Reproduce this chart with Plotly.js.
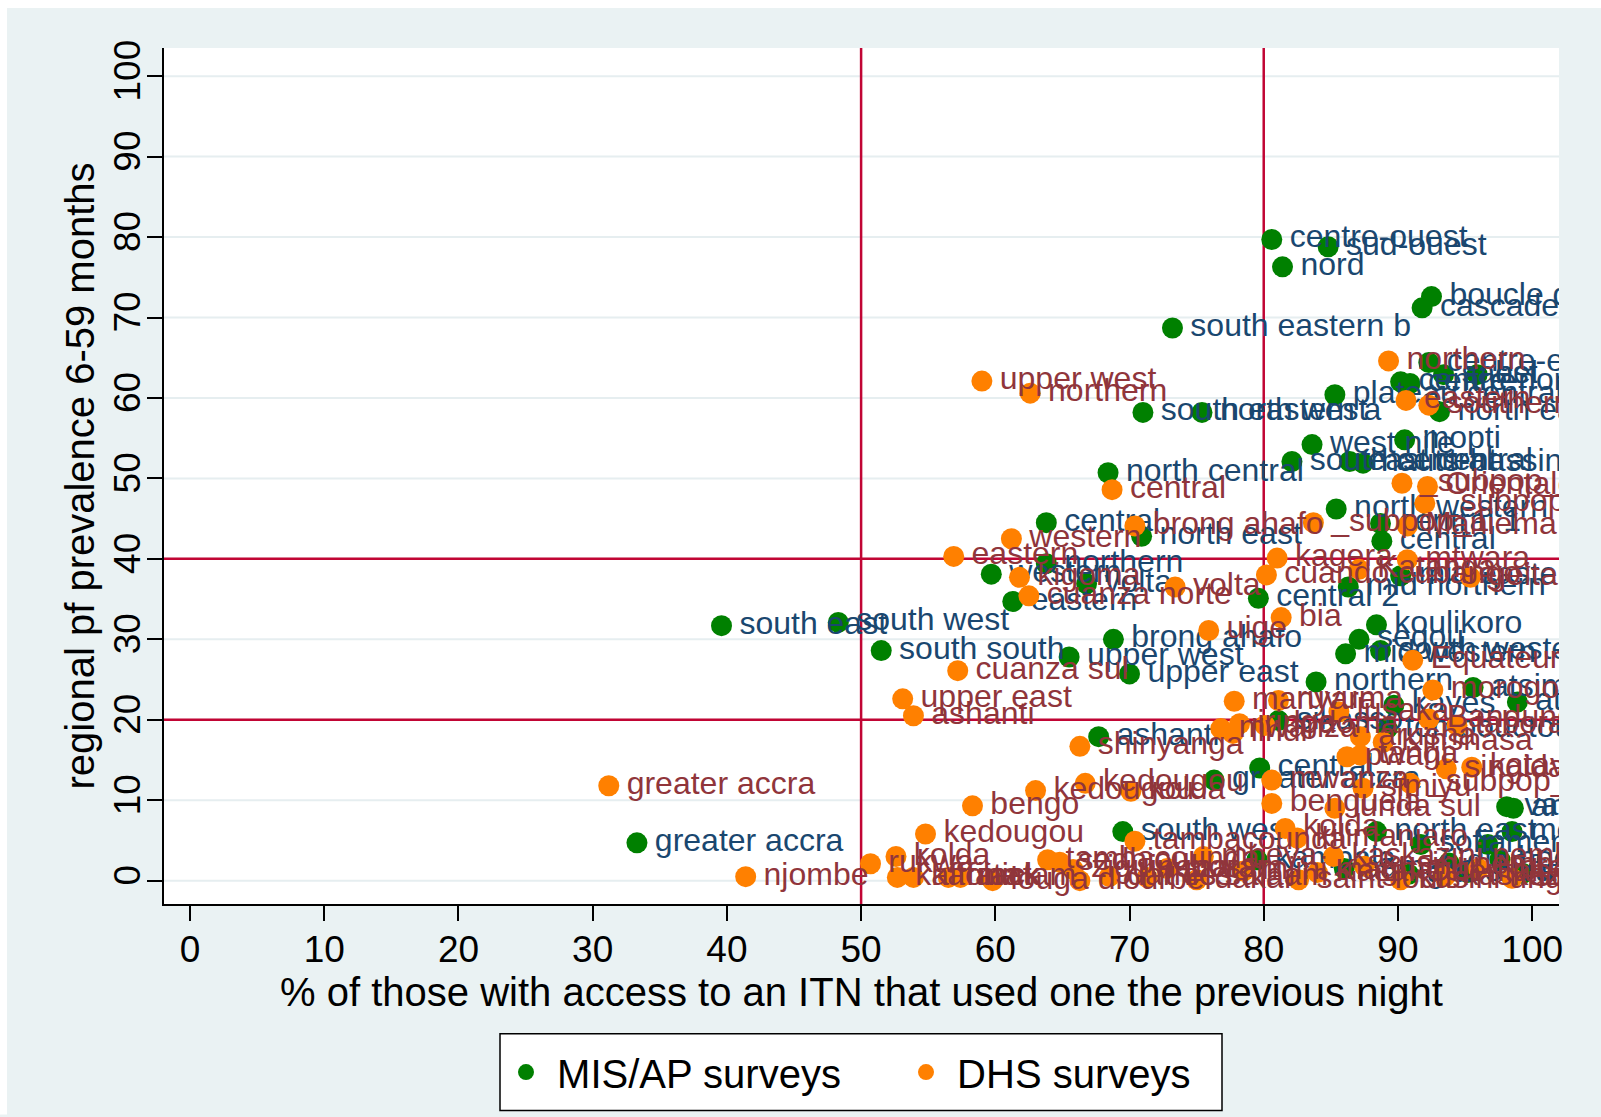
<!DOCTYPE html>
<html>
<head>
<meta charset="utf-8">
<script src="https://cdn.plot.ly/plotly-3.0.1.min.js"></script>
<style>html,body{margin:0;padding:0;background:#fff;}</style>
</head>
<body>
<div id="chart" style="width:1601px;height:1117px;"></div>
<script>
// ---- MIS / AP surveys (green markers, navy labels) ----
const misLabel = ["centre-ouest","sud-ouest","nord","boucle de mouhoun","cascades","south eastern b",
  "centre-est","sahel","est","centre-nord","centre","plateau central","north eastern",
  "south eastern a","north west","west nile","mopti","south central","east central","hauts-bassins",
  "north central","north western","central 1","central","central","north east","northern","western",
  "volta","eastern","central 2","mid northern","mid eastern","south east","south west","south south",
  "brong ahafo","koulikoro","segou","mid western","south western","upper west","upper east","northern",
  "atsimo andrefana","atsimo atsinanana","kayes","sikasso","tombouctou","ashanti","central","greater accra",
  "vatovavy fitovinany","anosy","south west","melaky","north east","greater accra","menabe","sofia",
  "kampala","diana","boeny","sava","itasy","bamako","gao"];
const misX = [80.6,84.8,81.4,92.5,91.8,73.2,
  92.3,93.4,95.9,90.2,90.9,85.3,93.1,
  71.0,75.4,83.6,90.5,82.1,86.4,87.4,
  68.4,85.4,88.7,88.8,63.8,70.9,63.8,59.7,
  66.8,61.3,79.6,86.3,90.2,39.6,48.3,51.5,
  68.8,88.4,87.1,86.1,88.7,65.5,70.0,83.9,
  95.6,98.9,89.7,81.1,89.2,67.7,79.7,76.3,
  98.1,98.6,69.5,98.5,88.4,33.3,96.7,91.7,
  79.5,93.8,97.6,95.2,99.3,86.0,90.8];
const misY = [79.7,78.8,76.3,72.6,71.2,68.7,
  64.4,62.9,62.9,62.0,61.8,60.4,58.3,
  58.2,58.2,54.2,54.8,52.1,52.1,51.9,
  50.7,46.2,44.4,42.2,44.5,42.8,39.4,38.1,
  36.9,34.7,35.1,36.5,37.9,31.7,32.1,28.6,
  30.0,31.8,30.0,28.2,28.6,27.8,25.7,24.7,
  24.0,22.2,21.8,19.9,18.9,17.9,14.0,12.5,
  9.2,9.0,6.1,6.1,6.1,4.7,4.5,4.5,
  2.6,2.2,2.6,1.0,0.9,1.5,0.8];

// ---- DHS surveys (orange markers, maroon labels) ----
const dhsLabel = ["northern","upper west","northern","eastern","southern","central","_subpop_16","Orientale",
  "_subpop_3","brong ahafo","_subpop_1","Maniema","western","eastern","kagera","mtwara","Katanga",
  "cuando cubango","geita","kigoma","cuanza norte","volta","bia","uige","Equateur","cuanza sul",
  "morogoro","upper east","ashanti","manyara","ruvuma","lusaka","Bandundu","tabora","mwanza","lindi",
  "iringa","dodoma","arusha","Kinshasa","pwani","tanga","singida","katavi","shinyanga","mwanza",
  "simiyu","_subpop_11","kedougou","kedougou","benguela","lunda sul","bengo","greater accra",
  "tambacounda","kolda","kilimanjaro","kedougou","kolda","njombe","rukwa","kaffrine","kaolack",
  "fatick","matam","louga","tambacounda","sedhiou","ziguinchor","diourbel","mbeya","thies","dakar",
  "saint-louis","kaskazini pemba","kusini unguja","dar es salaam","mjini magharibi","kusini pemba",
  "kaskazini unguja","Kasai-Oriental","Nord-Kivu","Sud-Kivu","matam","kolda"];
const dhsX = [89.3,59.0,62.6,90.6,92.3,68.7,90.3,92.2,
  92.0,70.4,83.7,90.7,61.2,56.9,81.0,90.7,87.1,
  80.2,95.4,61.8,62.5,73.4,81.3,75.9,91.1,57.2,
  92.6,53.1,53.9,77.8,81.1,85.6,92.3,94.4,76.8,77.7,
  78.2,80.1,87.2,88.9,86.2,87.2,93.6,95.5,66.3,80.6,
  87.4,90.9,63.0,66.7,80.6,85.3,58.3,31.2,
  70.4,81.6,82.5,54.8,52.6,41.4,50.7,52.7,53.9,
  56.5,57.4,59.8,63.9,64.8,65.8,66.3,75.5,71.3,75.0,
  82.6,85.2,90.2,68.5,78.5,87.5,
  93.5,84.0,96.0,98.5,72.8,70.1];
const dhsY = [64.6,62.1,60.6,59.7,59.1,48.6,49.4,49.0,
  46.9,44.1,44.5,44.1,42.5,40.3,40.1,39.9,38.7,
  38.0,37.7,37.7,35.4,36.5,32.7,31.1,27.4,26.1,
  23.7,22.6,20.5,22.3,22.4,21.0,20.1,19.3,18.9,18.3,
  19.5,19.3,17.9,17.2,15.4,15.6,13.9,14.1,16.7,12.5,
  11.5,12.1,11.2,12.1,9.6,9.0,9.3,11.8,
  4.9,6.5,5.3,5.8,3.0,0.5,2.1,0.4,0.4,
  0.4,0.4,0.0,2.6,2.3,1.4,0.0,3.0,0.4,0.1,
  0.1,3.0,0.1,0.5,1.2,1.8,
  0.5,1.0,1.5,0.3,1.5,11.1];

// ---- reference lines & ticks ----
const vLines = [50, 80];
const hLines = [20, 40];
const tickVals = [0,10,20,30,40,50,60,70,80,90,100];
const seriesNames = ["MIS/AP surveys", "DHS surveys"];

const FONT = "Liberation Sans, Arial, Helvetica, sans-serif";
const GREEN = "#008000", ORANGE = "#FF8000", NAVY = "#1A476F", MAROON = "#90353B";
const RED = "#C10534", GRID = "#E6EEF0";
const NB = "\u00a0";

const traces = [
  {type:"scatter", mode:"markers", name:NB + seriesNames[0], x:misX, y:misY,
   marker:{size:21, color:GREEN}, hoverinfo:"skip"},
  {type:"scatter", mode:"markers+text", x:misX, y:misY, text:misLabel, showlegend:false,
   marker:{size:27, color:GREEN, opacity:0}, textposition:"middle right",
   textfont:{family:FONT, size:32, color:NAVY}, hoverinfo:"skip"},
  {type:"scatter", mode:"markers", name:NB + seriesNames[1], x:dhsX, y:dhsY,
   marker:{size:21, color:ORANGE}, hoverinfo:"skip"},
  {type:"scatter", mode:"markers+text", x:dhsX, y:dhsY, text:dhsLabel, showlegend:false,
   marker:{size:27, color:ORANGE, opacity:0}, textposition:"middle right",
   textfont:{family:FONT, size:32, color:MAROON}, hoverinfo:"skip"}
];

// plot area in pixels: x 164..1559, y 48..906
const PL = 164, PR = 1559, PT = 48, PB = 906, W = 1601, H = 1117;
const px = v => (v - PL) / (PR - PL);
const py = v => (PB - v) / (PB - PT);

const shapes = [];
// horizontal gridlines (drawn first)
tickVals.forEach(v => shapes.push({type:"line", xref:"paper", yref:"y", x0:0, x1:1, y0:v, y1:v,
  line:{color:GRID, width:2}, layer:"between"}));
// red reference lines
vLines.forEach(v => shapes.push({type:"line", xref:"x", yref:"paper", x0:v, x1:v, y0:0, y1:1,
  line:{color:RED, width:2.5}, layer:"between"}));
hLines.forEach(v => shapes.push({type:"line", xref:"paper", yref:"y", x0:0, x1:1, y0:v, y1:v,
  line:{color:RED, width:2.5}, layer:"between"}));
// white outer frame strips (left and top)
shapes.push({type:"rect", xref:"paper", yref:"paper", x0:px(0), x1:px(7), y0:py(H), y1:py(0),
  fillcolor:"#ffffff", line:{width:0}, layer:"above"});
shapes.push({type:"rect", xref:"paper", yref:"paper", x0:px(0), x1:px(W), y0:py(8), y1:py(0),
  fillcolor:"#ffffff", line:{width:0}, layer:"above"});
// legend box
shapes.push({type:"rect", xref:"paper", yref:"paper", x0:px(500), x1:px(1222), y0:py(1113), y1:py(1036),
  fillcolor:"#ffffff", line:{color:"#000000", width:1.5}, layer:"above"});

const layout = {
  width:W, height:H,
  margin:{l:PL, r:W-PR, t:PT, b:H-PB, pad:0},
  paper_bgcolor:"#EAF2F3",
  plot_bgcolor:"#ffffff",
  font:{family:FONT, color:"#000000"},
  showlegend:true,
  legend:{orientation:"h", x:px(506), xanchor:"left", y:py(1074.5), yanchor:"middle",
    bgcolor:"rgba(0,0,0,0)", borderwidth:0, font:{family:FONT, size:40, color:"#000000"},
    entrywidth:355, entrywidthmode:"pixels", itemclick:false, itemdoubleclick:false},
  xaxis:{range:[-1.94, 102.0], tickvals:tickVals, ticktext:tickVals.map(String),
    ticks:"outside", ticklen:15, tickwidth:2, tickcolor:"#000000",
    ticklabelstandoff:-3,
    showline:true, linecolor:"#000000", linewidth:2, showgrid:false, zeroline:false,
    tickfont:{family:FONT, size:37, color:"#000000"},
    title:{text:"% of those with access to an ITN that used one the previous night",
      font:{family:FONT, size:40, color:"#000000"}, standoff:6}},
  yaxis:{range:[-2.9, 103.5], tickvals:tickVals, ticktext:tickVals.map(String),
    ticks:"outside", ticklen:15, tickwidth:2, tickcolor:"#000000", tickangle:-90,
    ticklabelstandoff:-8,
    showline:true, linecolor:"#000000", linewidth:2, showgrid:false,
    zeroline:false,
    tickfont:{family:FONT, size:37, color:"#000000"},
    title:{text:"regional pf prevalence 6-59 months",
      font:{family:FONT, size:40, color:"#000000"}, standoff:0}},
  shapes:shapes
};

Plotly.newPlot("chart", traces, layout, {staticPlot:true, displayModeBar:false});
</script>
</body>
</html>
